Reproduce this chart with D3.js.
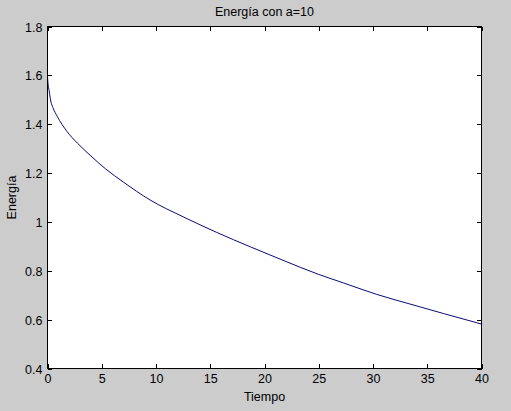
<!DOCTYPE html>
<html>
<head>
<meta charset="utf-8">
<script src="https://cdn.jsdelivr.net/npm/d3@7"></script>
<style>
    html, body { margin: 0; padding: 0; background: #cccccc; }
    svg { display: block; }
    .chart__text { font-family: "Liberation Sans", Arial, sans-serif; font-size: 12.5px; fill: #000; }
</style>
</head>
<body>
<div class="chart"></div>
<script>
// values
var timeValues = [0, 0.05, 0.15, 0.3, 0.5, 0.9, 1.8, 2.75, 4, 5.36, 7, 9.45, 12.5, 15.6, 18.7, 21.7, 25, 27.3, 30.3, 33.4, 36.5, 40];
var energyValues = [1.595, 1.565, 1.538, 1.495, 1.468, 1.432, 1.370, 1.323, 1.270, 1.217, 1.163, 1.090, 1.021, 0.957, 0.898, 0.843, 0.785, 0.750, 0.704, 0.664, 0.625, 0.582];

var xTicks = [0, 5, 10, 15, 20, 25, 30, 35, 40];
var yTicks = [0.4, 0.6, 0.8, 1, 1.2, 1.4, 1.6, 1.8];
var yTickLabels = ['0.4', '0.6', '0.8', '1', '1.2', '1.4', '1.6', '1.8'];

var titleText = 'Energía con a=10';
var xLabelText = 'Tiempo';
var yLabelText = 'Energía';

(function() {
    var options = {
        width: 511,
        height: 411,
        left: 47.5,
        right: 481.5,
        top: 26.5,
        bottom: 368.5,
        tickSize: 4.5
    };

    var svg = d3.select('.chart')
        .append('svg')
        .attr('width', options.width)
        .attr('height', options.height);

    var x = d3.scaleLinear()
        .domain([0, 40])
        .range([options.left, options.right]);

    var y = d3.scaleLinear()
        .domain([0.4, 1.8])
        .range([options.bottom, options.top]);

    svg.append('rect')
        .attr('x', options.left)
        .attr('y', options.top)
        .attr('width', options.right - options.left)
        .attr('height', options.bottom - options.top)
        .attr('fill', '#fff');

    var yLabel = function(d) { return yTickLabels[yTicks.indexOf(d)]; };

    // bottom and left axes with labels, ticks pointing inwards
    var bottomAxis = svg.append('g')
        .attr('transform', 'translate(0,' + options.bottom + ')')
        .call(d3.axisBottom(x).tickValues(xTicks).tickSizeInner(-options.tickSize).tickSizeOuter(0).tickPadding(6));

    var leftAxis = svg.append('g')
        .attr('transform', 'translate(' + options.left + ',0)')
        .call(d3.axisLeft(y).tickValues(yTicks).tickFormat(yLabel).tickSizeInner(-options.tickSize).tickSizeOuter(0).tickPadding(5));

    // top and right mirror ticks without labels
    var topAxis = svg.append('g')
        .attr('transform', 'translate(0,' + options.top + ')')
        .call(d3.axisTop(x).tickValues(xTicks).tickSizeInner(-options.tickSize).tickSizeOuter(0).tickFormat(''));

    var rightAxis = svg.append('g')
        .attr('transform', 'translate(' + options.right + ',0)')
        .call(d3.axisRight(y).tickValues(yTicks).tickSizeInner(-options.tickSize).tickSizeOuter(0).tickFormat(''));

    [bottomAxis, leftAxis, topAxis, rightAxis].forEach(function(axis) {
        axis.select('.domain').remove();
        axis.selectAll('line').attr('stroke', '#000').attr('shape-rendering', 'crispEdges');
        axis.selectAll('text')
            .attr('class', 'chart__text')
            .attr('font-family', null)
            .attr('font-size', null);
    });

    leftAxis.selectAll('text').attr('dy', '0.36em');
    bottomAxis.selectAll('text').attr('dy', '0.71em');

    var line = d3.line()
        .x(function(d, i) { return x(timeValues[i]); })
        .y(function(d) { return y(d); })
        .curve(d3.curveMonotoneX);

    svg.append('path')
        .datum(energyValues)
        .attr('d', line)
        .attr('fill', 'none')
        .attr('stroke', '#0a0a78')
        .attr('stroke-width', 1);

    // box around the axes
    svg.append('rect')
        .attr('x', options.left)
        .attr('y', options.top)
        .attr('width', options.right - options.left)
        .attr('height', options.bottom - options.top)
        .attr('fill', 'none')
        .attr('stroke', '#000')
        .attr('shape-rendering', 'crispEdges');

    var middle = (options.left + options.right) / 2;

    svg.append('text')
        .attr('class', 'chart__text')
        .attr('text-anchor', 'middle')
        .attr('x', middle)
        .attr('y', 15.5)
        .text(titleText);

    svg.append('text')
        .attr('class', 'chart__text')
        .attr('text-anchor', 'middle')
        .attr('x', middle)
        .attr('y', 400.5)
        .text(xLabelText);

    svg.append('text')
        .attr('class', 'chart__text')
        .attr('text-anchor', 'middle')
        .attr('transform', 'translate(16,' + ((options.top + options.bottom) / 2) + ') rotate(-90)')
        .text(yLabelText);
})();
</script>
</body>
</html>
